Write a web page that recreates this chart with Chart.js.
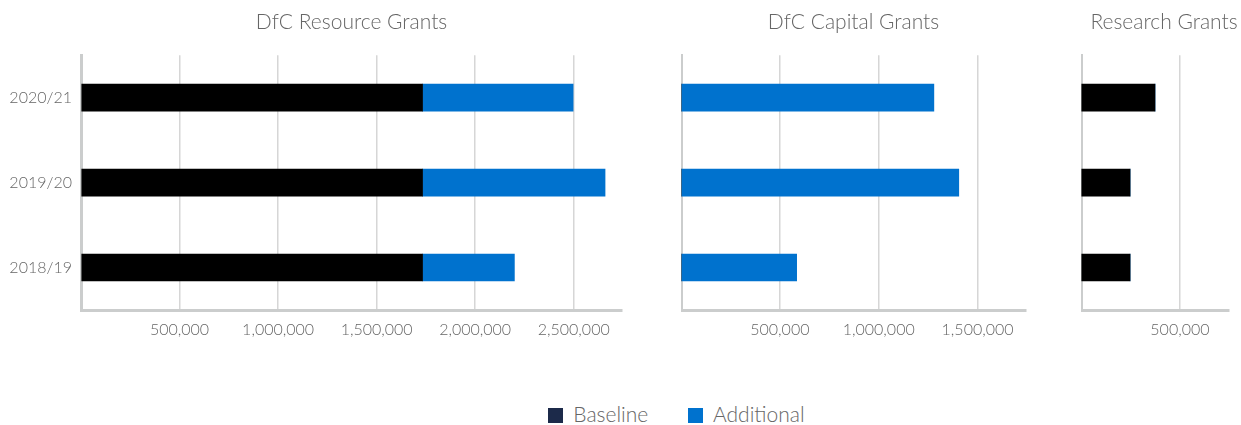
<!DOCTYPE html>
<html>
<head>
<meta charset="utf-8">
<script src="https://cdn.jsdelivr.net/npm/chart.js@4"></script>
<style>
  html, body { margin: 0; padding: 0; background: #fff; overflow: hidden; }
  body { width: 1241px; height: 425px; position: relative; font-family: Lato, sans-serif; }
  .panel { position: absolute; top: 0; height: 340px; }
  #legend { position: absolute; top: 401px; left: 56px; width: 1241px; text-align: center;
            font-size: 21px; color: #666; font-weight: 300; white-space: nowrap; }
  #legend span.item { display: inline-block; margin: 0 17px; }
  #legend span.box { display: inline-block; width: 15px; height: 15px; margin-right: 10px; vertical-align: -1px; }
</style>
</head>
<body>
<div class="panel" style="left:0; width:624px;"><canvas id="resourceChart"></canvas></div>
<div class="panel" style="left:681px; width:347px;"><canvas id="capitalChart"></canvas></div>
<div class="panel" style="left:1081px; width:166px;"><canvas id="researchChart"></canvas></div>
<div id="legend">
  <span class="item"><span class="box" style="background:#1c2a4a"></span>Baseline</span>
  <span class="item"><span class="box" style="background:#0072ce"></span>Additional</span>
</div>
<script>
// Data
const years = ['2020/21', '2019/20', '2018/19'];
const resourceBaseline = [1733000, 1733000, 1733000];
const resourceAdditional = [764000, 926000, 466000];
const capitalBaseline = [0, 0, 0];
const capitalAdditional = [1279000, 1405000, 585000];
const researchBaseline = [374000, 248000, 248000];
const researchAdditional = [0, 0, 0];

// x axis ticks for each panel
const resourceTicks = [0, 500000, 1000000, 1500000, 2000000, 2500000];
const capitalTicks = [0, 500000, 1000000, 1500000];
const researchTicks = [0, 500000];

const BASELINE_COLOR = '#000000';
const ADDITIONAL_COLOR = '#0072ce';
const TEXT_COLOR = '#666666';
const FONT = 'Lato, sans-serif';

function makeChart(id, title, baseline, additional, tickValues, max, opts) {
    const ctx = document.getElementById(id).getContext('2d');
    return new Chart(ctx, {
        type: 'bar',
        data: {
            labels: years,
            datasets: [
                { label: 'Baseline', data: baseline, backgroundColor: BASELINE_COLOR, barThickness: 27 },
                { label: 'Additional', data: additional, backgroundColor: ADDITIONAL_COLOR, barThickness: 27 },
            ],
        },
        options: {
            indexAxis: 'y',
            responsive: true,
            maintainAspectRatio: false,
            animation: false,
            layout: { padding: 0 },
            plugins: {
                legend: { display: false },
                tooltip: { enabled: false },
                title: {
                    display: true,
                    text: title,
                    fullSize: opts.fullTitle,
                    color: TEXT_COLOR,
                    font: { family: FONT, size: 21, weight: '300' },
                    padding: { top: 10, bottom: 20 },
                },
            },
            scales: {
                x: {
                    stacked: true,
                    min: 0,
                    max: max,
                    grid: { color: '#d6d6d6', lineWidth: 1.5, drawTicks: false },
                    border: { display: true, color: '#cbcdcd', width: 3 },
                    afterBuildTicks: scale => {
                        scale.ticks = tickValues.map(v => ({ value: v }));
                    },
                    afterFit: scale => {
                        scale.height = 30;
                        scale.paddingLeft = 0;
                        scale.paddingRight = opts.padRight;
                    },
                    ticks: {
                        maxRotation: 0,
                        autoSkip: false,
                        padding: 10,
                        color: TEXT_COLOR,
                        font: { family: FONT, size: 16, weight: '300' },
                        callback: v => v === 0 ? '' : v.toLocaleString('en-GB'),
                    },
                },
                y: {
                    stacked: true,
                    grid: { display: false },
                    border: { display: true, color: '#cbcdcd', width: 3 },
                    afterFit: scale => { scale.width = opts.yWidth; },
                    ticks: {
                        display: opts.showYLabels,
                        padding: 1,
                        color: TEXT_COLOR,
                        font: { family: FONT, size: 16, weight: '300' },
                    },
                },
            },
        },
    });
}

makeChart('resourceChart', 'DfC Resource Grants', resourceBaseline, resourceAdditional, resourceTicks, 2745000,
    { yWidth: 81, showYLabels: true, padRight: 2, fullTitle: false });
makeChart('capitalChart', 'DfC Capital Grants', capitalBaseline, capitalAdditional, capitalTicks, 1745000,
    { yWidth: 0, showYLabels: false, padRight: 2, fullTitle: false });
makeChart('researchChart', 'Research Grants', researchBaseline, researchAdditional, researchTicks, 748000,
    { yWidth: 0, showYLabels: false, padRight: 18, fullTitle: true });
</script>
</body>
</html>
